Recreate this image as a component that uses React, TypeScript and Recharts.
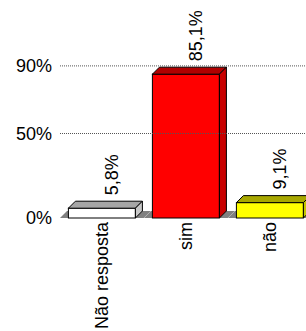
import { BarChart, Bar, XAxis, YAxis, ReferenceLine, LabelList } from "recharts";

const CATEGORIES = ["Não resposta", "sim", "não"];
const VALUES = [5.8, 85.1, 9.1];
const Y_TICKS = [0, 50, 90];
const GRID_VALUES = [50, 90];

// front / top / side colours for each bar
const FRONT = ["#ffffff", "#ff0000", "#ffff00"];
const TOP = ["#a6a6a6", "#b00000", "#a8a800"];
const SIDE = ["#c8c8c8", "#c80000", "#c4c400"];

const FONT = "'Liberation Sans', Arial, sans-serif";
const FONT_SIZE = 18;
const DEPTH = 7;

const data = CATEGORIES.map((name, i) => ({ name, value: VALUES[i] }));

function Bar3D(props: any) {
  const { x, y, width, height, index } = props;
  const d = DEPTH;
  const base = y + height;
  const off = width / 8;
  const x0 = x - off;
  const x1 = x + width + off;
  return (
    <g>
      <polygon
        points={`${x0},${base} ${x1},${base} ${x1 + d},${base - d} ${x0 + d},${base - d}`}
        fill="#808080"
      />
      <rect x={x} y={y} width={width} height={height} fill={FRONT[index]} stroke="#000" strokeWidth={1} />
      <polygon
        points={`${x},${y} ${x + d},${y - d} ${x + width + d},${y - d} ${x + width},${y}`}
        fill={TOP[index]}
        stroke="#000"
        strokeWidth={1}
        strokeLinejoin="round"
      />
      <polygon
        points={`${x + width},${y} ${x + width + d},${y - d} ${x + width + d},${base - d} ${x + width},${base}`}
        fill={SIDE[index]}
        stroke="#000"
        strokeWidth={1}
        strokeLinejoin="round"
      />
    </g>
  );
}

function ValueLabel(props: any) {
  const { x, y, width, value } = props;
  const cx = x + width / 2 + 10;
  const by = y - 13;
  return (
    <text
      transform={`translate(${cx},${by}) rotate(-90)`}
      textAnchor="start"
      dy="0.35em"
      fontSize={FONT_SIZE}
      fontFamily={FONT}
      fill="#000"
    >
      {Number(value).toFixed(1).replace(".", ",") + "%"}
    </text>
  );
}

function CatTick(props: any) {
  const { x, payload } = props;
  return (
    <text
      transform={`translate(${x},222) rotate(-90)`}
      textAnchor="end"
      dy="0.35em"
      fontSize={FONT_SIZE}
      fontFamily={FONT}
      fill="#000"
    >
      {payload.value}
    </text>
  );
}

export default function App() {
  return (
    <div style={{ position: "absolute", left: 0, top: 0, width: 306, height: 331, overflow: "hidden", background: "#fff" }}>
      <BarChart
        width={320}
        height={331}
        data={data}
        margin={{ top: 49, right: 8, bottom: 0, left: 0 }}
        barCategoryGap="10%"
      >
        <XAxis dataKey="name" height={113} axisLine={false} tickLine={false} tick={<CatTick />} interval={0} />
        <YAxis
          width={60}
          domain={[0, 100]}
          ticks={Y_TICKS}
          axisLine={false}
          tickLine={false}
          tickFormatter={(v: number) => `${v}%`}
          tick={{ fontSize: FONT_SIZE, fill: "#000", fontFamily: FONT }}
        />
        {GRID_VALUES.map((v) => (
          <ReferenceLine key={v} y={v} stroke="#555" strokeDasharray="1 1" />
        ))}
        <Bar dataKey="value" shape={<Bar3D />} isAnimationActive={false}>
          <LabelList dataKey="value" content={<ValueLabel />} />
        </Bar>
      </BarChart>
    </div>
  );
}
